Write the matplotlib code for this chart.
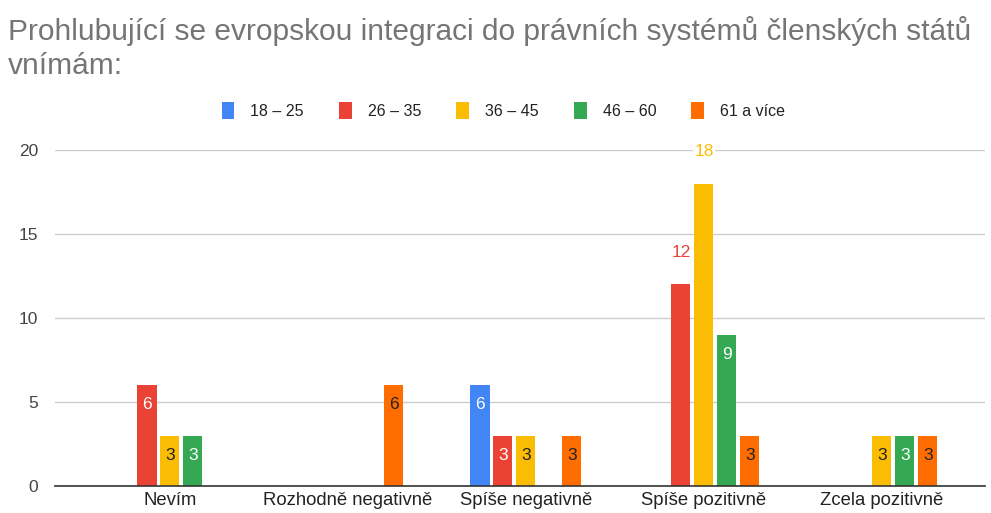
import matplotlib.pyplot as plt
import numpy as np
from matplotlib.patches import Patch

# --- DATA ---
categories = ['Nevím', 'Rozhodně negativně', 'Spíše negativně', 'Spíše pozitivně', 'Zcela pozitivně']
series_names = ['18 – 25', '26 – 35', '36 – 45', '46 – 60', '61 a více']
age_18_25 = [0, 0, 6, 0, 0]
age_26_35 = [6, 0, 3, 12, 0]
age_36_45 = [3, 0, 3, 18, 3]
age_46_60 = [3, 0, 0, 9, 3]
age_61_up = [0, 6, 3, 3, 3]
y_ticks = [0, 5, 10, 15, 20]

series_values = [age_18_25, age_26_35, age_36_45, age_46_60, age_61_up]
colors = ['#4285F4', '#EA4335', '#FBBC04', '#34A853', '#FF6D01']
inside_text = ['white', 'white', '#222222', 'white', '#222222']

plt.rcParams['font.family'] = ['Liberation Sans', 'DejaVu Sans']

fig = plt.figure(figsize=(9.91, 5.13), dpi=100)
ax = fig.add_axes([0.0555, 0.0526, 0.9385, 0.655])

x = np.arange(len(categories))
step = 0.129
width = 0.107

for i, (name, vals) in enumerate(zip(series_names, series_values)):
    pos = x + (i - 2) * step
    ax.bar(pos, vals, width, color=colors[i], label=name, zorder=3)
    for p, v in zip(pos, vals):
        if v == 0:
            continue
        if v >= 12:
            # tall bars get the label above, in series colour
            ax.annotate(str(v), (p, v), xytext=(0, 23), textcoords='offset points',
                        ha='center', va='center', fontsize=12.5, color=colors[i],
                        bbox=dict(facecolor='white', edgecolor='none', pad=1), zorder=4)
        else:
            ax.annotate(str(v), (p, v), xytext=(0, -14), textcoords='offset points',
                        ha='center', va='center', fontsize=12.5, color=inside_text[i], zorder=4)

ax.set_ylim(0, 20)
ax.set_xlim(-0.646, 4.58)
ax.set_yticks(y_ticks)
ax.set_xticks(x)
ax.set_xticklabels(categories, fontsize=13.3, color='#222222')
ax.tick_params(axis='y', labelsize=12.5, labelcolor='#444444', length=0, pad=12)
ax.tick_params(axis='x', length=0, pad=4)
ax.grid(axis='y', color='#cccccc', linewidth=1, zorder=0)
for s in ['top', 'right', 'left']:
    ax.spines[s].set_visible(False)
ax.spines['bottom'].set_color('#333333')
ax.spines['bottom'].set_linewidth(1.2)
ax.spines['bottom'].set_zorder(5)

# Title
fig.text(0.008, 0.968, 'Prohlubující se evropskou integraci do právních systémů členských států\nvnímám:',
         ha='left', va='top', fontsize=21.5, color='#757575', linespacing=1.25)

# Legend
handles = [Patch(facecolor=c, edgecolor='none') for c in colors]
fig.legend(handles, series_names, loc='center', bbox_to_anchor=(0.508, 0.785), ncol=5,
           frameon=False, fontsize=11.5, handlelength=0.8, handleheight=1.3,
           handletextpad=1.0, columnspacing=2.2, labelcolor='#222222')

fig.savefig('out.png', dpi=100)
